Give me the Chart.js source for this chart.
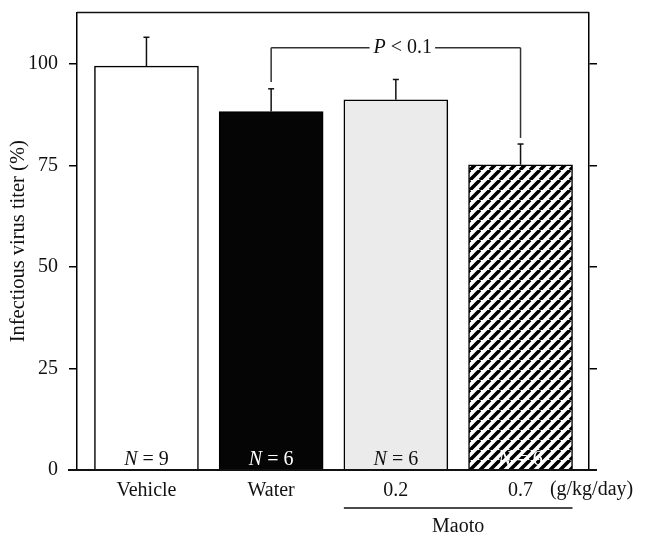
<!DOCTYPE html>
<html>
<head>
<meta charset="utf-8">
<script src="https://cdn.jsdelivr.net/npm/chart.js@4.4.0/dist/chart.umd.min.js"></script>
<style>
  html, body { margin: 0; padding: 0; background: #fff; }
  canvas { display: block; }
</style>
</head>
<body>
<canvas id="titer-chart" width="646" height="536"></canvas>
<script>
// Chart data
const categories = ['Vehicle', 'Water', '0.2', '0.7'];
const titerMeans = [99.5, 88.3, 91.2, 75.2];
const titerErrors = [7.1, 5.6, 5.0, 5.1];
const sampleSizes = [9, 6, 6, 6];
const yTicks = [0, 25, 50, 75, 100];
const doseUnit = '(g/kg/day)';
const groupLabel = 'Maoto';
const groupMembers = [2, 3];

// Significance bracket (Water vs 0.7)
const compareBars = [1, 3];
const compareLevel = 104;
const compareEnds = [95.6, 81.8];

// Styling
const ink = '#111';
const serif = "'Liberation Serif', 'Times New Roman', serif";
const fontSize = 20;

function hatchPattern() {
    const size = 10;
    const c = document.createElement('canvas');
    c.width = size;
    c.height = size;
    const g = c.getContext('2d');
    g.fillStyle = '#fff';
    g.fillRect(0, 0, size, size);
    g.strokeStyle = '#000';
    g.lineWidth = 3.6;
    g.beginPath();
    [-size, 0, size].forEach(o => {
        g.moveTo(o, size);
        g.lineTo(o + size, 0);
    });
    g.stroke();
    return g.createPattern(c, 'repeat');
}

const barFills = ['#ffffff', '#050505', '#ebebeb', hatchPattern()];
const labelColors = [ink, '#fff', ink, '#fff'];

function line(ctx, x1, y1, x2, y2) {
    ctx.beginPath();
    ctx.moveTo(x1, y1);
    ctx.lineTo(x2, y2);
    ctx.stroke();
}

// Draw "italic + regular" text centred on x
function mixedText(ctx, italicPart, rest, x, y, color) {
    ctx.font = `italic ${fontSize}px ${serif}`;
    const w1 = ctx.measureText(italicPart).width;
    ctx.font = `${fontSize}px ${serif}`;
    const w2 = ctx.measureText(rest).width;
    const start = x - (w1 + w2) / 2;
    ctx.fillStyle = color;
    ctx.textAlign = 'left';
    ctx.font = `italic ${fontSize}px ${serif}`;
    ctx.fillText(italicPart, start, y);
    ctx.font = `${fontSize}px ${serif}`;
    ctx.fillText(rest, start + w1, y);
    return { left: start, right: start + w1 + w2 };
}

const annotations = {
    id: 'annotations',
    afterDatasetsDraw(chart) {
        const ctx = chart.ctx;
        const yScale = chart.scales.y;
        const area = chart.chartArea;
        const bars = chart.getDatasetMeta(0).data;

        ctx.save();
        ctx.strokeStyle = ink;
        ctx.lineWidth = 1.5;

        // error bars (upper only)
        bars.forEach((bar, i) => {
            const top = yScale.getPixelForValue(titerMeans[i] + titerErrors[i]);
            line(ctx, bar.x, bar.y, bar.x, top);
            line(ctx, bar.x - 3, top, bar.x + 3, top);
        });

        // frame top and baseline
        line(ctx, area.left, area.top, area.right, area.top);
        ctx.lineWidth = 2;
        line(ctx, area.left - 9, area.bottom, area.right + 8, area.bottom);

        // N labels inside bars
        ctx.textBaseline = 'alphabetic';
        bars.forEach((bar, i) => {
            mixedText(ctx, 'N', ' = ' + sampleSizes[i], bar.x, area.bottom - 5, labelColors[i]);
        });

        // significance bracket
        ctx.lineWidth = 1.5;
        ctx.strokeStyle = '#333';
        const bx1 = bars[compareBars[0]].x;
        const bx2 = bars[compareBars[1]].x;
        const by = yScale.getPixelForValue(compareLevel);
        ctx.textBaseline = 'middle';
        const txt = mixedText(ctx, 'P', ' < 0.1', (bx1 + bx2) / 2 + 7, by, ink);
        line(ctx, bx1, yScale.getPixelForValue(compareEnds[0]), bx1, by);
        line(ctx, bx1, by, txt.left - 4, by);
        line(ctx, txt.right + 3, by, bx2, by);
        line(ctx, bx2, by, bx2, yScale.getPixelForValue(compareEnds[1]));

        // dose unit and Maoto group
        const labelY = area.bottom + 20;
        ctx.fillStyle = ink;
        ctx.font = `${fontSize}px ${serif}`;
        ctx.textAlign = 'center';
        ctx.fillText(doseUnit, bars[3].x + 71, labelY);
        const g1 = bars[groupMembers[0]];
        const g2 = bars[groupMembers[1]];
        const gl = g1.x - g1.width / 2;
        const gr = g2.x + g2.width / 2;
        ctx.strokeStyle = ink;
        ctx.lineWidth = 1.5;
        line(ctx, gl, area.bottom + 38, gr, area.bottom + 38);
        ctx.fillText(groupLabel, (gl + gr) / 2, area.bottom + 57);

        ctx.restore();
    }
};

// Vertical axes: fixed widths, no extra label padding at the top
function fitVertical(width) {
    return scale => {
        scale.width = width;
        scale.paddingTop = 0;
        scale.paddingBottom = 0;
    };
}

const ctx = document.getElementById('titer-chart').getContext('2d');
const titerChart = new Chart(ctx, {
    type: 'bar',
    data: {
        datasets: [{
            data: titerMeans.map((v, i) => ({ x: i, y: v })),
            backgroundColor: barFills,
            borderColor: '#000',
            borderWidth: 1.5,
            barThickness: 104,
            borderSkipped: 'start'
        }]
    },
    options: {
        responsive: false,
        animation: false,
        devicePixelRatio: 1,
        layout: { padding: { top: 12.5, left: 0, right: 0, bottom: 0 } },
        plugins: {
            legend: { display: false },
            tooltip: { enabled: false }
        },
        scales: {
            x: {
                type: 'linear',
                offset: false,
                min: -0.557,
                max: 3.549,
                grid: { display: false, drawTicks: false, offset: false },
                border: { display: false },
                afterBuildTicks: scale => { scale.ticks = categories.map((c, i) => ({ value: i })); },
                afterFit: scale => { scale.height = 66; },
                ticks: {
                    autoSkip: false,
                    maxRotation: 0,
                    padding: 9,
                    color: ink,
                    font: { family: serif, size: fontSize },
                    callback: v => categories[v]
                }
            },
            y: {
                position: 'left',
                min: 0,
                max: 112.7,
                afterBuildTicks: scale => { scale.ticks = yTicks.map(v => ({ value: v })); },
                afterFit: fitVertical(77),
                grid: { drawOnChartArea: false, tickLength: 8, color: '#000', lineWidth: 1.5 },
                border: { display: true, color: '#000', width: 1.5 },
                ticks: {
                    padding: 11,
                    color: ink,
                    font: { family: serif, size: fontSize }
                },
                title: {
                    display: true,
                    text: 'Infectious virus titer (%)',
                    color: ink,
                    padding: { top: 6, bottom: 0 },
                    font: { family: serif, size: 20.5 }
                }
            },
            yRight: {
                position: 'right',
                min: 0,
                max: 112.7,
                afterBuildTicks: scale => { scale.ticks = yTicks.map(v => ({ value: v })); },
                afterFit: fitVertical(57),
                grid: { drawOnChartArea: false, tickLength: 8, color: '#000', lineWidth: 1.5 },
                border: { display: true, color: '#000', width: 1.5 },
                ticks: { color: 'rgba(0,0,0,0)', font: { family: serif, size: fontSize } }
            }
        }
    },
    plugins: [annotations]
});
</script>
</body>
</html>
